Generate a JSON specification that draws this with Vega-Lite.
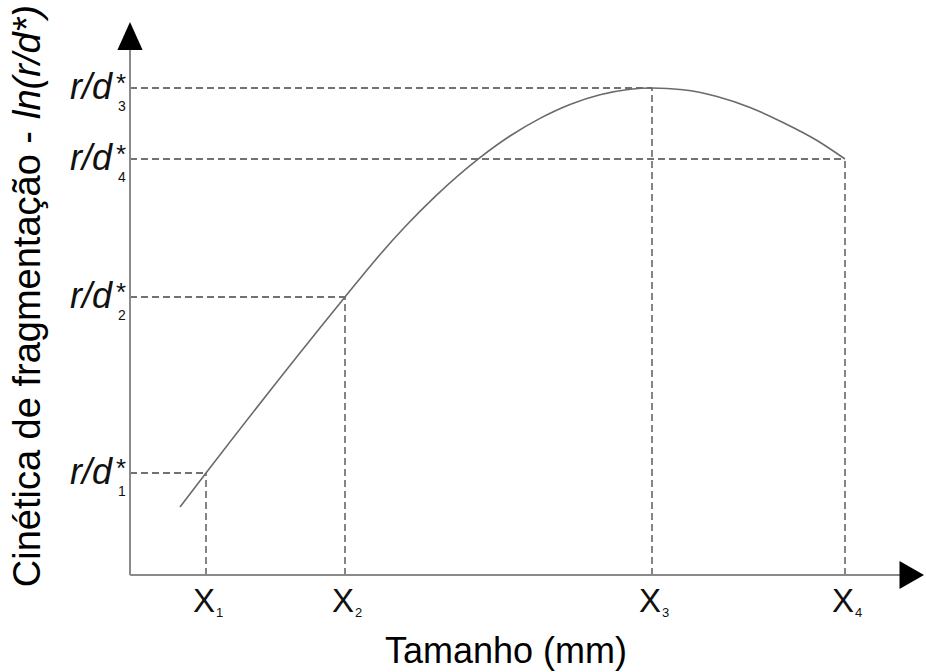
{
  "$schema": "https://vega.github.io/schema/vega-lite/v6.json",
  "width": 794,
  "height": 553,
  "autosize": {"type": "none"},
  "padding": {"left": 130, "top": 22, "right": 2, "bottom": 97},
  "background": "white",
  "config": {"view": {"stroke": null}},
  "datasets": {
    "curve": [
      {"x": 50, "y": 68}, {"x": 76, "y": 102}, {"x": 215, "y": 278}, {"x": 245, "y": 314.6},
      {"x": 275, "y": 348.2}, {"x": 305, "y": 378.4}, {"x": 350, "y": 417.4}, {"x": 380, "y": 439},
      {"x": 410, "y": 456.6}, {"x": 440, "y": 470.5}, {"x": 470, "y": 480.2}, {"x": 500, "y": 485.8},
      {"x": 522, "y": 487}, {"x": 553, "y": 485.2}, {"x": 587, "y": 478.5}, {"x": 620, "y": 467.5},
      {"x": 653, "y": 452.5}, {"x": 687, "y": 434.5}, {"x": 715, "y": 416}
    ],
    "levels": [
      {"x": 76, "y": 102, "n": "1"},
      {"x": 215, "y": 278, "n": "2"},
      {"x": 522, "y": 487, "n": "3"},
      {"x": 715, "y": 416, "n": "4"}
    ],
    "guides": [
      {"g": "h1", "x": 0, "y": 102}, {"g": "h1", "x": 76, "y": 102},
      {"g": "v1", "x": 76, "y": 0}, {"g": "v1", "x": 76, "y": 102},
      {"g": "h2", "x": 0, "y": 278}, {"g": "h2", "x": 215, "y": 278},
      {"g": "v2", "x": 215, "y": 0}, {"g": "v2", "x": 215, "y": 278},
      {"g": "h3", "x": 0, "y": 487}, {"g": "h3", "x": 522, "y": 487},
      {"g": "v3", "x": 522, "y": 0}, {"g": "v3", "x": 522, "y": 487},
      {"g": "h4", "x": 0, "y": 416}, {"g": "h4", "x": 715, "y": 416},
      {"g": "v4", "x": 715, "y": 0}, {"g": "v4", "x": 715, "y": 416}
    ],
    "axes": [
      {"g": "xaxis", "x": 0, "y": 0}, {"g": "xaxis", "x": 774, "y": 0},
      {"g": "yaxis", "x": 0, "y": 0}, {"g": "yaxis", "x": 0, "y": 528}
    ],
    "one": [{"k": 1}]
  },
  "layer": [
    {
      "data": {"name": "guides"},
      "mark": {"type": "line", "strokeDash": [7, 4], "color": "#444", "strokeWidth": 1.3},
      "encoding": {
        "x": {"field": "x", "type": "quantitative", "scale": {"domain": [0, 794], "nice": false, "zero": false}, "axis": null},
        "y": {"field": "y", "type": "quantitative", "scale": {"domain": [0, 553], "nice": false, "zero": false}, "axis": null},
        "detail": {"field": "g", "type": "nominal"}
      }
    },
    {
      "data": {"name": "axes"},
      "mark": {"type": "line", "color": "#8a8a8a", "strokeWidth": 2},
      "encoding": {
        "x": {"field": "x", "type": "quantitative"},
        "y": {"field": "y", "type": "quantitative"},
        "detail": {"field": "g", "type": "nominal"}
      }
    },
    {
      "data": {"name": "curve"},
      "mark": {"type": "line", "interpolate": "monotone", "color": "#6a6a6a", "strokeWidth": 1.6},
      "encoding": {
        "x": {"field": "x", "type": "quantitative"},
        "y": {"field": "y", "type": "quantitative"}
      }
    },
    {
      "data": {"name": "one"},
      "mark": {"type": "point", "shape": "M0,-1L0.9,1L-0.9,1Z", "filled": true, "color": "#000", "opacity": 1, "size": 784},
      "encoding": {
        "x": {"datum": 0, "type": "quantitative"},
        "y": {"datum": 539, "type": "quantitative"}
      }
    },
    {
      "data": {"name": "one"},
      "mark": {"type": "point", "shape": "M1,0L-0.75,-1L-0.75,1Z", "filled": true, "color": "#000", "opacity": 1, "size": 784},
      "encoding": {
        "x": {"datum": 780, "type": "quantitative"},
        "y": {"datum": 0, "type": "quantitative"}
      }
    },
    {
      "data": {"name": "levels"},
      "mark": {"type": "text", "text": "r/d", "font": "Liberation Sans", "fontStyle": "italic", "fontSize": 36, "align": "right", "baseline": "alphabetic", "dx": -18, "dy": 11, "color": "#111"},
      "encoding": {
        "x": {"datum": 0, "type": "quantitative"},
        "y": {"field": "y", "type": "quantitative"}
      }
    },
    {
      "data": {"name": "levels"},
      "mark": {"type": "text", "text": "*", "font": "Liberation Sans", "fontSize": 26, "align": "left", "baseline": "alphabetic", "dx": -14, "dy": 4, "color": "#111"},
      "encoding": {
        "x": {"datum": 0, "type": "quantitative"},
        "y": {"field": "y", "type": "quantitative"}
      }
    },
    {
      "data": {"name": "levels"},
      "mark": {"type": "text", "font": "Liberation Sans", "fontSize": 14, "align": "left", "baseline": "alphabetic", "dx": -12, "dy": 23, "color": "#111"},
      "encoding": {
        "x": {"datum": 0, "type": "quantitative"},
        "y": {"field": "y", "type": "quantitative"},
        "text": {"field": "n", "type": "nominal"}
      }
    },
    {
      "data": {"name": "levels"},
      "mark": {"type": "text", "text": "X", "font": "Liberation Sans", "fontSize": 33, "align": "center", "baseline": "alphabetic", "dx": -2, "dy": 37, "color": "#111"},
      "encoding": {
        "x": {"field": "x", "type": "quantitative"},
        "y": {"datum": 0, "type": "quantitative"}
      }
    },
    {
      "data": {"name": "levels"},
      "mark": {"type": "text", "font": "Liberation Sans", "fontSize": 13, "align": "left", "baseline": "alphabetic", "dx": 10, "dy": 42, "color": "#111"},
      "encoding": {
        "x": {"field": "x", "type": "quantitative"},
        "y": {"datum": 0, "type": "quantitative"},
        "text": {"field": "n", "type": "nominal"}
      }
    },
    {
      "data": {"name": "one"},
      "mark": {"type": "text", "text": "Tamanho (mm)", "font": "Liberation Sans", "fontSize": 36, "align": "center", "baseline": "alphabetic", "dy": 88, "color": "#000"},
      "encoding": {
        "x": {"datum": 376, "type": "quantitative"},
        "y": {"datum": 0, "type": "quantitative"}
      }
    },
    {
      "data": {"name": "one"},
      "mark": {"type": "text", "text": "Cinética de fragmentação -", "font": "Liberation Sans", "fontSize": 38, "angle": 270, "align": "right", "baseline": "middle", "dx": -6, "dy": -101, "color": "#000"},
      "encoding": {
        "x": {"datum": 0, "type": "quantitative"},
        "y": {"datum": 450, "type": "quantitative"}
      }
    },
    {
      "data": {"name": "one"},
      "mark": {"type": "text", "text": "ln(r/d*)", "font": "Liberation Sans", "fontStyle": "italic", "fontSize": 38, "angle": 270, "align": "left", "baseline": "middle", "dx": 6, "dy": -101, "color": "#000"},
      "encoding": {
        "x": {"datum": 0, "type": "quantitative"},
        "y": {"datum": 450, "type": "quantitative"}
      }
    }
  ]
}
